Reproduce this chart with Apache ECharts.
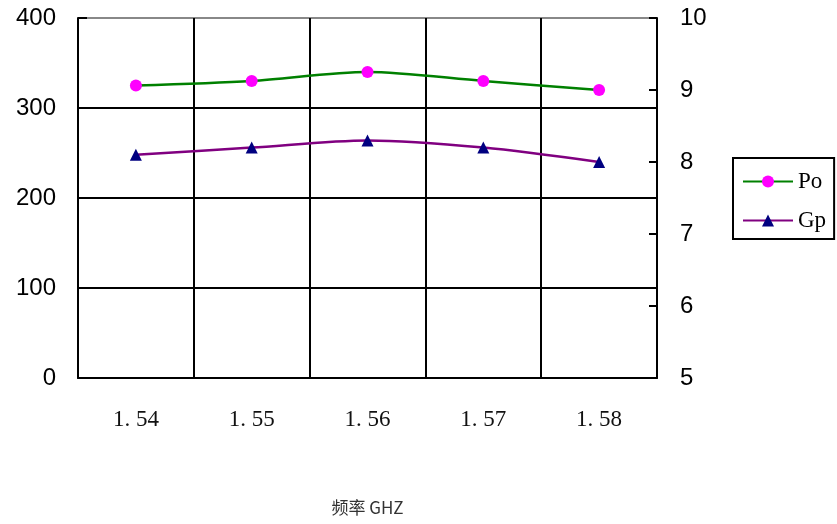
<!DOCTYPE html>
<html><head><meta charset="utf-8">
<script src="https://cdn.jsdelivr.net/npm/echarts@6/dist/echarts.min.js"></script>
<style>html,body{margin:0;padding:0;background:#fff}#c{width:837px;height:524px}</style>
</head><body><div id="c"></div>
<script>
const categories = ['1.54', '1.55', '1.56', '1.57', '1.58'];
const poValues = [325, 330, 340, 330, 320];
const gpValues = [8.1, 8.2, 8.3, 8.2, 8.0];
const leftTicks = [0, 100, 200, 300, 400];
const rightTicks = [5, 6, 7, 8, 9, 10];
const xTitle = '频率 GHZ';

const chart = echarts.init(document.getElementById('c'));
chart.setOption({
  animation: false,
  backgroundColor: '#fff',
  grid: { left: 78, right: 180, top: 18, bottom: 146, containLabel: false, outerBoundsMode: 'none' },
  legend: {
    orient: 'vertical', left: 733, top: 158,
    padding: [12, 8, 7, 9],
    borderColor: '#000', borderWidth: 2,
    itemWidth: 50, itemHeight: 15, itemGap: 16,
    textStyle: { fontFamily: 'Liberation Serif', fontSize: 23, color: '#000' },
    data: ['Po', 'Gp']
  },
  xAxis: {
    type: 'category', data: categories, boundaryGap: true,
    name: xTitle, nameLocation: 'middle', nameGap: 121,
    nameTextStyle: { fontFamily: 'Noto Sans CJK SC', fontSize: 17, color: '#333' },
    axisLine: { lineStyle: { color: '#000', width: 2 } },
    axisTick: { show: false },
    axisLabel: { margin: 30, fontFamily: 'Liberation Serif', fontSize: 23, color: '#111',
      formatter: v => v.replace('.', '. ') },
    splitLine: { show: true, lineStyle: { color: '#000', width: 2 } }
  },
  yAxis: [{
    type: 'value', min: leftTicks[0], max: leftTicks[leftTicks.length - 1], interval: 100,
    axisLine: { show: true, lineStyle: { color: '#000', width: 2 } },
    axisTick: { show: true, inside: true, length: 9, lineStyle: { color: '#000', width: 2 } },
    axisLabel: { fontFamily: 'Liberation Sans', fontSize: 24, color: '#000', margin: 22 },
    splitLine: { show: true, lineStyle: { color: ['#000', '#000', '#000', '#000', '#888'], width: 2 } }
  }, {
    type: 'value', min: rightTicks[0], max: rightTicks[rightTicks.length - 1], interval: 1,
    position: 'right',
    axisLine: { show: true, lineStyle: { color: '#000', width: 2 } },
    axisTick: { show: true, inside: true, length: 8, lineStyle: { color: '#000', width: 2 } },
    axisLabel: { fontFamily: 'Liberation Sans', fontSize: 24, color: '#000', margin: 23 },
    splitLine: { show: false }
  }],
  series: [{
    name: 'Po', type: 'line', yAxisIndex: 0, data: poValues, smooth: 0.3,
    symbol: 'circle', symbolSize: 12,
    lineStyle: { color: '#008000', width: 2.5 },
    itemStyle: { color: '#ff00ff', borderWidth: 0 }
  }, {
    name: 'Gp', type: 'line', yAxisIndex: 1, data: gpValues, smooth: 0.3,
    symbol: 'triangle', symbolSize: 12,
    lineStyle: { color: '#800080', width: 2.5 },
    itemStyle: { color: '#000080', borderWidth: 0 }
  }]
});
</script></body></html>
